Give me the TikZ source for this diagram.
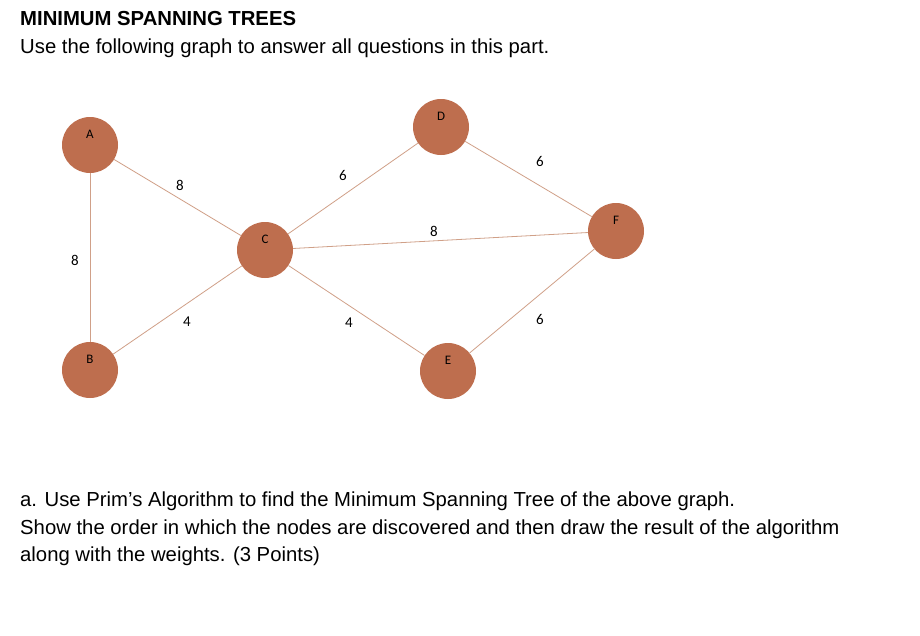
\documentclass[tikz,border=0pt]{standalone}
\usepackage{fontspec}
\setmainfont{Liberation Sans}
\newfontfamily\labfont{Carlito}
\definecolor{nodefill}{HTML}{BE6E4E}
\definecolor{edgecol}{HTML}{D0A088}
\begin{document}
\begin{tikzpicture}[x=1pt,y=-1pt,
  vert/.style={circle,fill=nodefill,minimum size=56pt,inner sep=0pt},
  vlab/.style={font=\labfont\fontsize{13}{15}\selectfont},
  edge/.style={draw=edgecol,line width=0.8pt},
  wt/.style={font=\labfont\fontsize{15}{17}\selectfont},
  txt/.style={anchor=west,inner sep=0pt,font=\fontsize{20.3}{24}\selectfont}]
\useasboundingbox (0,0) rectangle (920,635);
\fill[white] (0,0) rectangle (920,635);
\node[vert] (A) at (90,145) {};
\node[vert] (B) at (90,370) {};
\node[vert] (C) at (265,250) {};
\node[vert] (D) at (441,127) {};
\node[vert] (E) at (448,371) {};
\node[vert] (F) at (616,231) {};
\foreach \n/\l in {A/A,B/B,C/C,D/D,E/E,F/F}
  \node[vlab] at ([yshift=11pt]\n.center) {\l};
\draw[edge] (A) -- (B);
\draw[edge] (A) -- (C);
\draw[edge] (B) -- (C);
\draw[edge] (C) -- (D);
\draw[edge] (C) -- (F);
\draw[edge] (C) -- (E);
\draw[edge] (D) -- (F);
\draw[edge] (E) -- (F);
\node[wt] at (180,185) {8};
\node[wt] at (75,260) {8};
\node[wt] at (187,322) {4};
\node[wt] at (343,175) {6};
\node[wt] at (434,231) {8};
\node[wt] at (349,323) {4};
\node[wt] at (540,161) {6};
\node[wt] at (540,319) {6};
\node[txt,font=\bfseries\fontsize{20.3}{24}\selectfont] (t1) at (20,19) {MINIMUM SPANNING TREES};
\node[txt] (t2) at (20,48) {Use the following graph to answer all questions in this part.};
\node[txt] (t3) at (20,501) {a. Use Prim's Algorithm to find the Minimum Spanning Tree of the above graph.};
\node[txt] (t4) at (20,529) {Show the order in which the nodes are discovered and then draw the result of the algorithm};
\node[txt] (t5) at (20,556) {along with the weights. (3 Points)};
\end{tikzpicture}
\end{document}
